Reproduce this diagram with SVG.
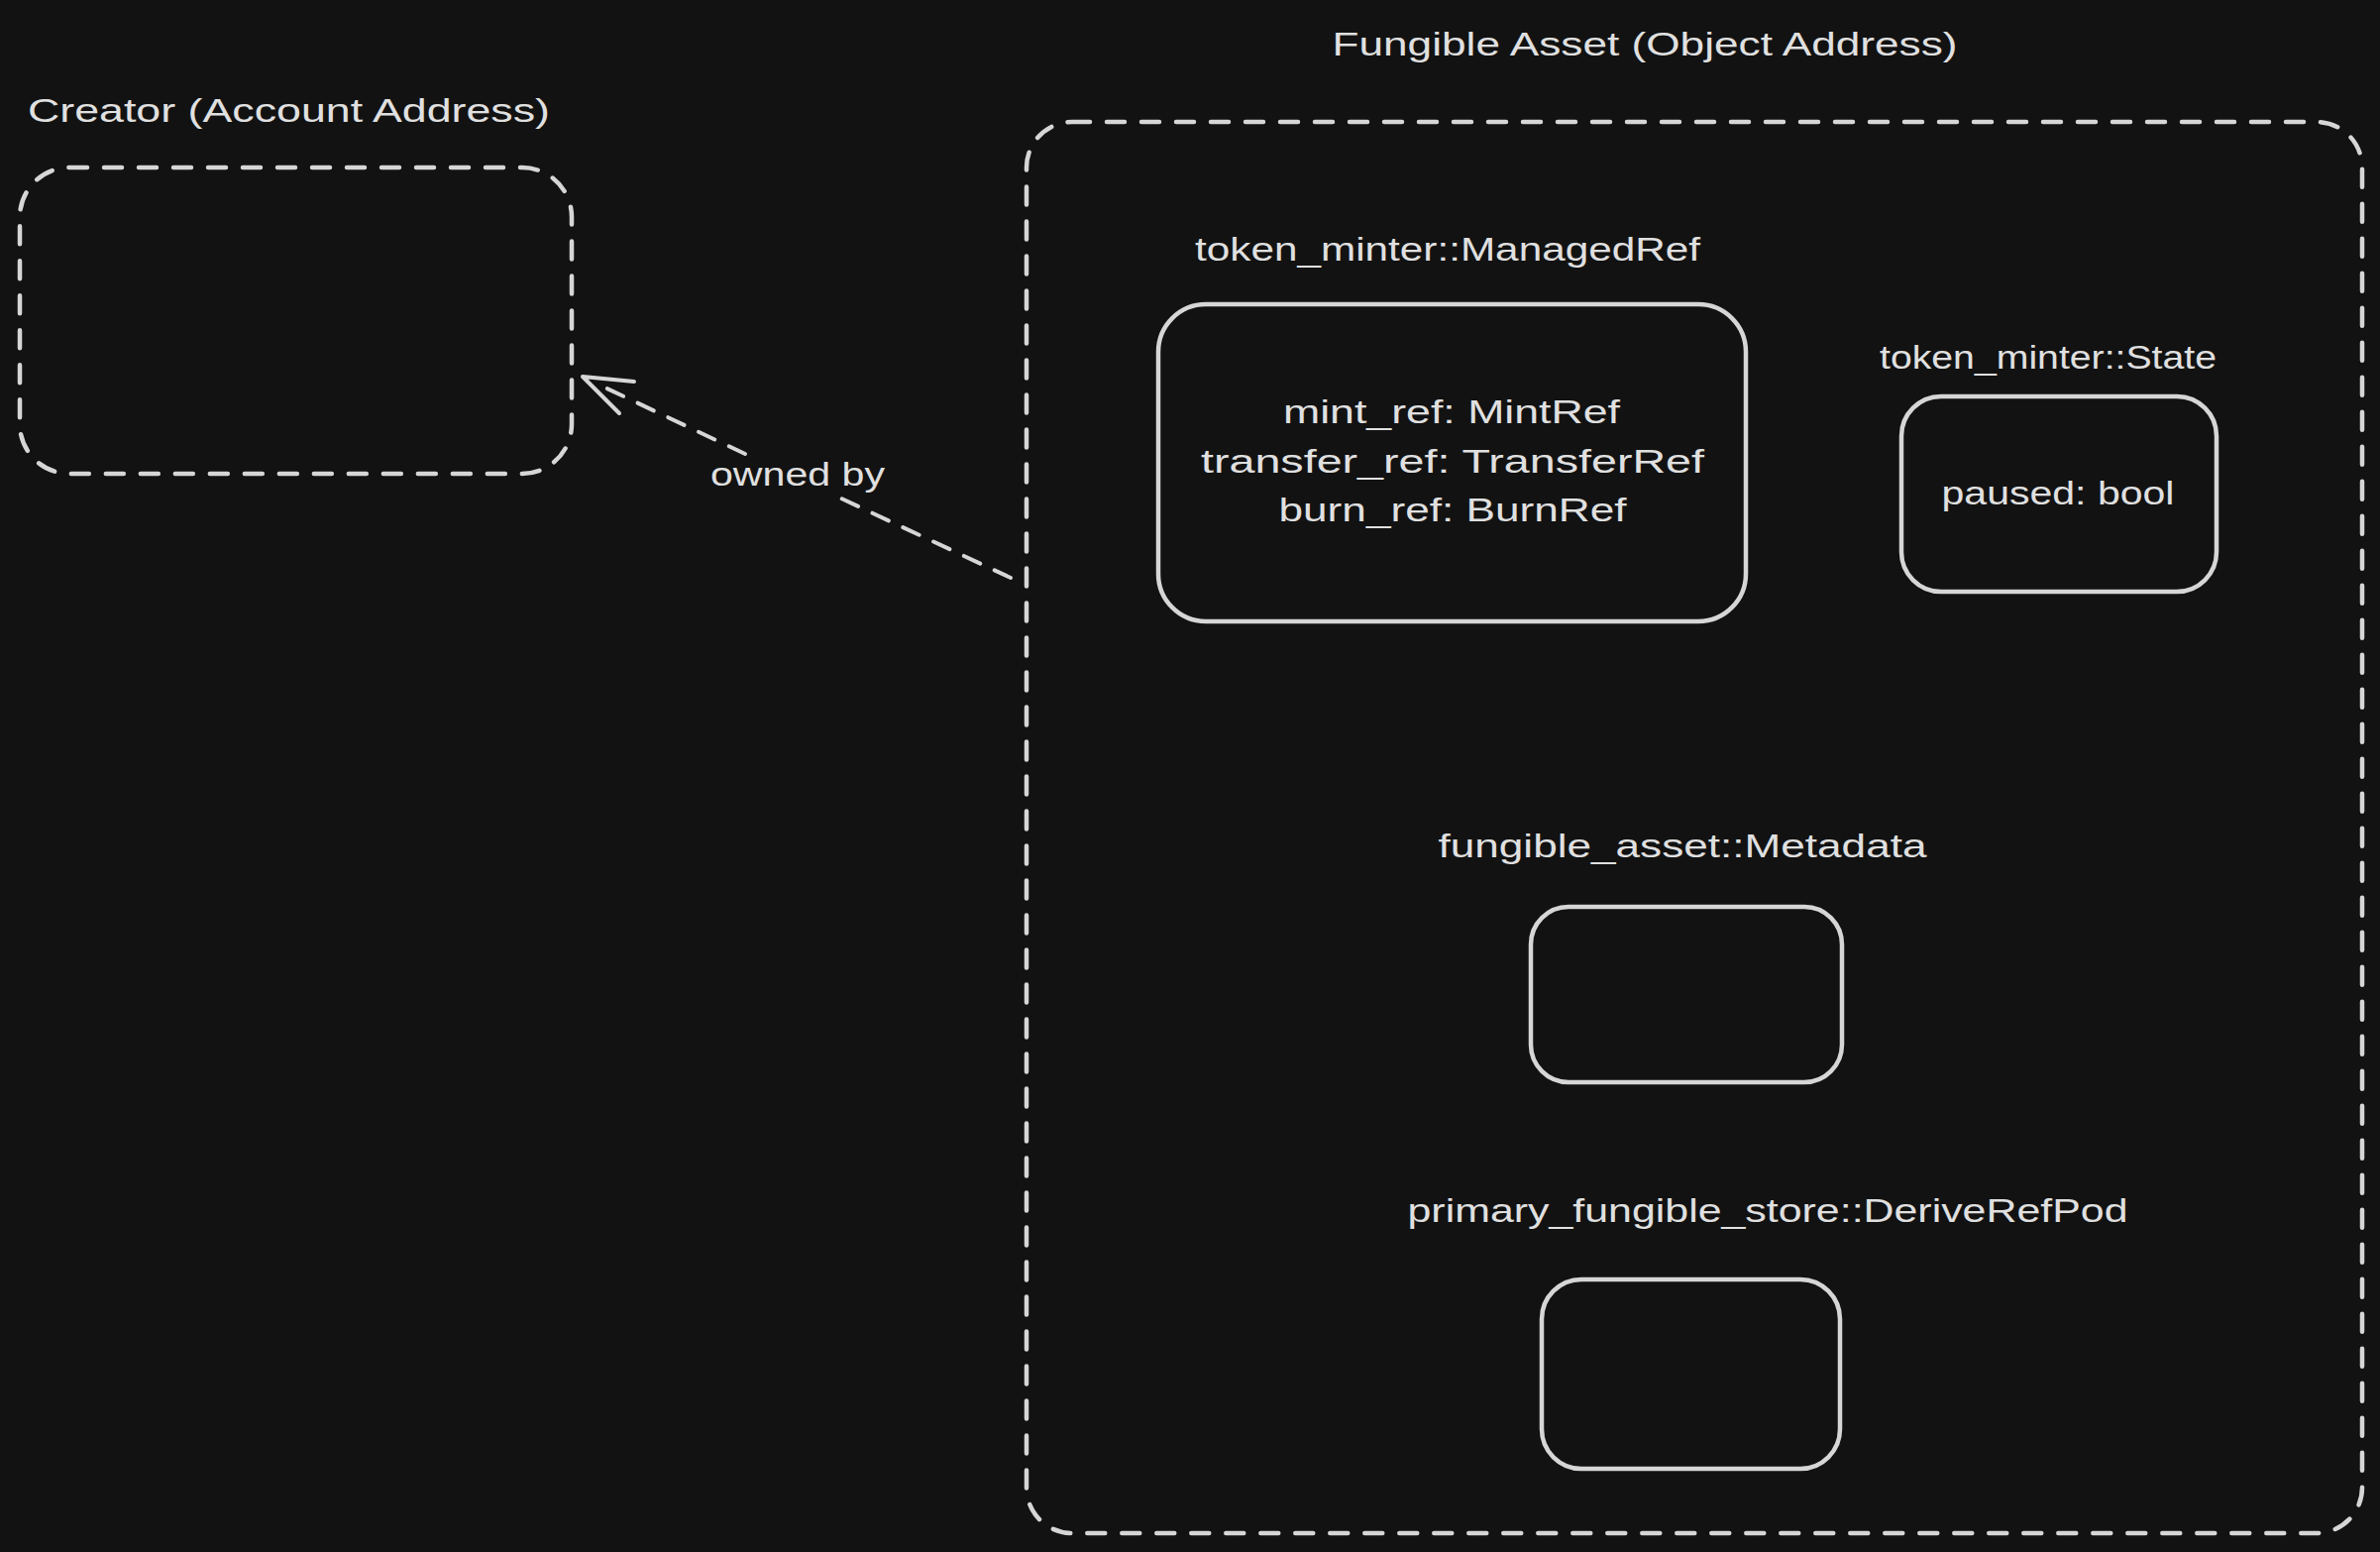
<svg xmlns="http://www.w3.org/2000/svg" width="2402" height="1566" viewBox="0 0 2402 1566">
  <style>
    .bg { fill: #121212; }
    .dash { fill: none; stroke: #d6d6d6; stroke-width: 4.5; stroke-dasharray: 18 17; stroke-linecap: round; }
    .solid { fill: none; stroke: #d6d6d6; stroke-width: 4.5; }
    .conn { fill: none; stroke: #d6d6d6; stroke-width: 4; stroke-dasharray: 18 16; stroke-linecap: round; }
    .head { fill: none; stroke: #d6d6d6; stroke-width: 4; stroke-linecap: round; stroke-linejoin: round; }
    text { font-family: "Liberation Sans", "DejaVu Sans", sans-serif; fill: #e0e0e0; font-size: 34px; }
    .mid { text-anchor: middle; }
  </style>
  <rect class="bg" x="0" y="0" width="2402" height="1566"/>

  <g id="creator">
    <text x="28" y="123" font-size="35" textLength="527" lengthAdjust="spacingAndGlyphs">Creator (Account Address)</text>
    <rect class="dash" x="20" y="169" width="557" height="309" rx="50" ry="50"/>
  </g>

  <g id="fungible-asset">
    <text class="mid" x="1660" y="56" font-size="39" textLength="631" lengthAdjust="spacingAndGlyphs">Fungible Asset (Object Address)</text>
    <rect class="dash" x="1036" y="123" width="1348" height="1424" rx="46" ry="46"/>
  </g>

  <g id="managed-ref">
    <text class="mid" x="1461" y="263" textLength="510" lengthAdjust="spacingAndGlyphs">token_minter::ManagedRef</text>
    <rect class="solid" x="1169" y="307" width="593" height="320" rx="48" ry="48"/>
    <text class="mid" x="1465" y="427" textLength="340" lengthAdjust="spacingAndGlyphs">mint_ref: MintRef</text>
    <text class="mid" x="1466" y="477" textLength="508" lengthAdjust="spacingAndGlyphs">transfer_ref: TransferRef</text>
    <text class="mid" x="1466" y="526" textLength="351" lengthAdjust="spacingAndGlyphs">burn_ref: BurnRef</text>
  </g>

  <g id="state">
    <text class="mid" x="2067" y="372" font-size="29" textLength="340" lengthAdjust="spacingAndGlyphs">token_minter::State</text>
    <rect class="solid" x="1919" y="400" width="318" height="197" rx="40" ry="40"/>
    <text class="mid" x="2077" y="509" textLength="235" lengthAdjust="spacingAndGlyphs">paused: bool</text>
  </g>

  <g id="metadata">
    <text class="mid" x="1698" y="865" textLength="493" lengthAdjust="spacingAndGlyphs">fungible_asset::Metadata</text>
    <rect class="solid" x="1545" y="915" width="314" height="177" rx="38" ry="38"/>
  </g>

  <g id="derive-ref-pod">
    <text class="mid" x="1784" y="1233" textLength="727" lengthAdjust="spacingAndGlyphs">primary_fungible_store::DeriveRefPod</text>
    <rect class="solid" x="1556" y="1291" width="301" height="191" rx="40" ry="40"/>
  </g>

  <g id="connectors">
    <line class="conn" x1="1020" y1="583" x2="847" y2="502"/>
    <line class="conn" x1="752" y1="458" x2="600" y2="386"/>
    <path class="head" d="M640,385 L588,380 L625,417"/>
    <text class="mid" x="805" y="490" textLength="176" lengthAdjust="spacingAndGlyphs">owned by</text>
  </g>
</svg>
